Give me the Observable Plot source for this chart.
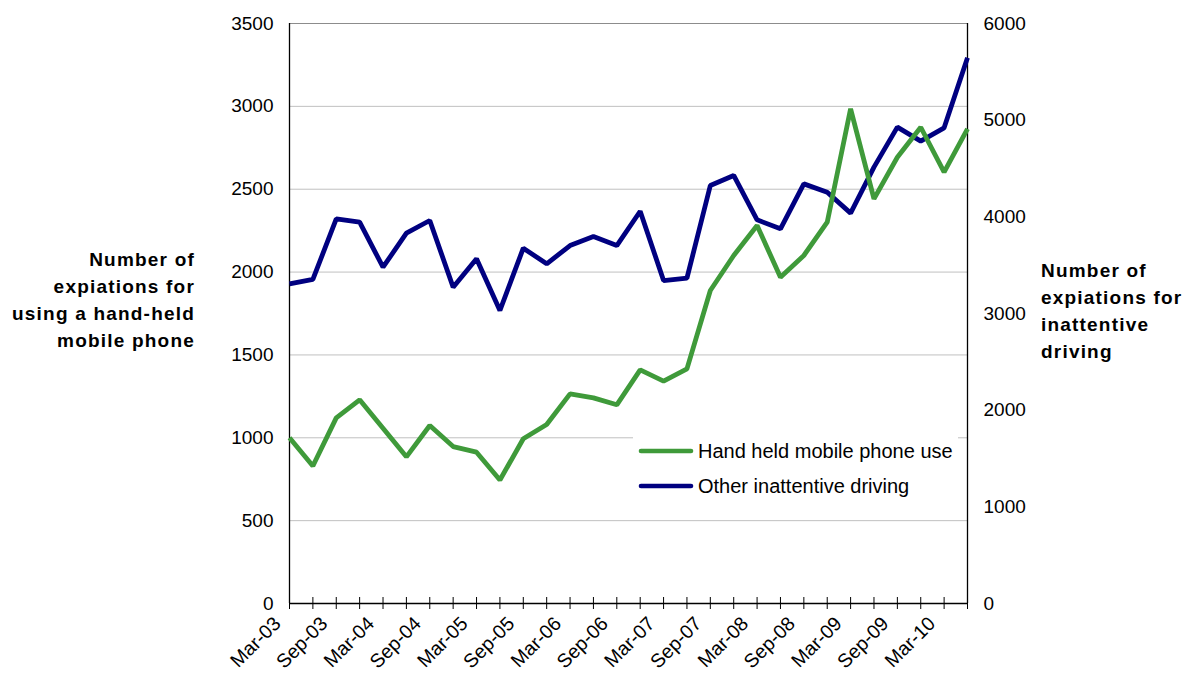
<!DOCTYPE html>
<html>
<head>
<meta charset="utf-8">
<script src="https://cdn.jsdelivr.net/npm/d3@7"></script>
<script src="https://cdn.jsdelivr.net/npm/@observablehq/plot@0.6"></script>
<style>
  body { margin: 0; background: #fff; }
  #wrap { position: relative; width: 1194px; height: 677px; font-family: "Liberation Sans", Arial, sans-serif; color: #000; }
  .ttl { position: absolute; font-weight: bold; font-size: 19px; line-height: 27px; letter-spacing: 1.2px; }
  #legend { position: absolute; left: 633px; top: 426px; width: 325px; height: 78px; background: #fff; }
  .lrow { position: absolute; left: 5px; height: 24px; display: flex; align-items: center; font-size: 20px; white-space: nowrap; }
  .lrow svg { margin-right: 4px; }
</style>
</head>
<body>
<div id="wrap"></div>
<script>
// Categories (quarters)
const quarters = ["Mar-03","Jun-03","Sep-03","Dec-03","Mar-04","Jun-04","Sep-04","Dec-04",
  "Mar-05","Jun-05","Sep-05","Dec-05","Mar-06","Jun-06","Sep-06","Dec-06",
  "Mar-07","Jun-07","Sep-07","Dec-07","Mar-08","Jun-08","Sep-08","Dec-08",
  "Mar-09","Jun-09","Sep-09","Dec-09","Mar-10","Jun-10"];
// Tick labels shown on the x axis
const xTickLabels = ["Mar-03","Sep-03","Mar-04","Sep-04","Mar-05","Sep-05","Mar-06","Sep-06",
  "Mar-07","Sep-07","Mar-08","Sep-08","Mar-09","Sep-09","Mar-10"];
// Series values
const handHeld = [1000, 830, 1120, 1229, 1058, 885, 1074, 947, 913, 745, 994, 1080, 1265, 1241, 1199,
  1410, 1342, 1416, 1889, 2100, 2281, 1969, 2100, 2301, 2985, 2442, 2693, 2874, 2603, 2864];
const inattentive = [3307, 3352, 3979, 3945, 3479, 3831, 3962, 3272, 3566, 3031, 3676, 3514, 3703, 3797, 3703,
  4058, 3341, 3366, 4324, 4428, 3969, 3876, 4341, 4255, 4038, 4514, 4928, 4783, 4921, 5645];
// Axis ticks
const leftTicks = [0, 500, 1000, 1500, 2000, 2500, 3000, 3500];
const rightTicks = [0, 1000, 2000, 3000, 4000, 5000, 6000];
const leftMax = 3500, rightMax = 6000;
const toLeft = v => v * leftMax / rightMax;

const seriesA = quarters.map((q, i) => ({q, v: handHeld[i]}));
const seriesB = quarters.map((q, i) => ({q, v: toLeft(inattentive[i])}));

const green = "#3f9a3a", navy = "#000080";
const first = quarters[0], last = quarters[quarters.length - 1];

const chart = Plot.plot({
  width: 1194, height: 677,
  marginLeft: 289, marginRight: 227, marginTop: 23, marginBottom: 74,
  style: {fontFamily: "'Liberation Sans', Arial, sans-serif", fontSize: "19px", color: "#000", background: "#fff"},
  x: {type: "point", domain: quarters, padding: 0, round: false, label: null},
  y: {domain: [0, leftMax], nice: false, label: null},
  marks: [
    Plot.ruleY(leftTicks.filter(d => d > 0 && d < leftMax), {y: d => d, stroke: "#c0c0c0", strokeWidth: 1}),
    Plot.ruleY([leftMax], {stroke: "#8c8c8c", strokeWidth: 1}),
    // axis lines
    Plot.ruleX([first], {x: d => d, y1: 0, y2: leftMax, stroke: "#000", strokeWidth: 1.3}),
    Plot.ruleX([last], {x: d => d, y1: 0, y2: leftMax, stroke: "#000", strokeWidth: 1.3}),
    Plot.ruleY([0], {stroke: "#000", strokeWidth: 1.3}),
    // crossing tick marks
    Plot.ruleY(leftTicks, {y: d => d, x1: first, x2: first, insetLeft: -6, insetRight: -6, stroke: "#000"}),
    Plot.ruleY(rightTicks.map(toLeft), {y: d => d, x1: last, x2: last, insetLeft: -6, insetRight: -6, stroke: "#000"}),
    Plot.ruleX(quarters, {x: d => d, y1: 0, y2: 0, insetTop: -6, insetBottom: -6, stroke: "#000"}),
    // tick labels
    Plot.axisY({ticks: leftTicks, tickSize: 0, tickPadding: 16, anchor: "left", label: null, fontSize: 19,
      tickFormat: d => String(d)}),
    Plot.axisY(rightTicks.map(toLeft), {anchor: "right", tickSize: 0, tickPadding: 16, label: null, fontSize: 19,
      tickFormat: d => String(Math.round(d * rightMax / leftMax))}),
    Plot.axisX({ticks: xTickLabels, tickSize: 0, tickPadding: 14, tickRotate: -45, label: null, fontSize: 19.5,
      dx: -12, dy: 3}),
    // series
    Plot.line(seriesB, {x: "q", y: "v", stroke: navy, strokeWidth: 4.8, strokeLinejoin: "miter", strokeLinecap: "butt"}),
    Plot.line(seriesA, {x: "q", y: "v", stroke: green, strokeWidth: 4.8, strokeLinejoin: "miter", strokeLinecap: "butt"})
  ]
});

const wrap = document.getElementById("wrap");
wrap.appendChild(chart);

function addTitle(lines, left, top, width, align) {
  const d = document.createElement("div");
  d.className = "ttl";
  d.style.left = left + "px";
  d.style.top = top + "px";
  d.style.width = width + "px";
  d.style.textAlign = align;
  d.innerHTML = lines.join("<br>");
  wrap.appendChild(d);
}
addTitle(["Number of", "expiations for", "using a hand-held", "mobile phone"], 0, 246, 195, "right");
addTitle(["Number of", "expiations for", "inattentive", "driving"], 1041, 257, 150, "left");

const legend = document.createElement("div");
legend.id = "legend";
const legendItems = [["Hand held mobile phone use", green], ["Other inattentive driving", navy]];
legendItems.forEach(([name, color], i) => {
  const row = document.createElement("div");
  row.className = "lrow";
  row.style.top = (13 + i * 35) + "px";
  row.innerHTML = `<svg width="56" height="10"><line x1="3" y1="5" x2="53" y2="5" stroke="${color}" stroke-width="4.6" stroke-linecap="round"/></svg><span>${name}</span>`;
  legend.appendChild(row);
});
wrap.appendChild(legend);
</script>
</body>
</html>
